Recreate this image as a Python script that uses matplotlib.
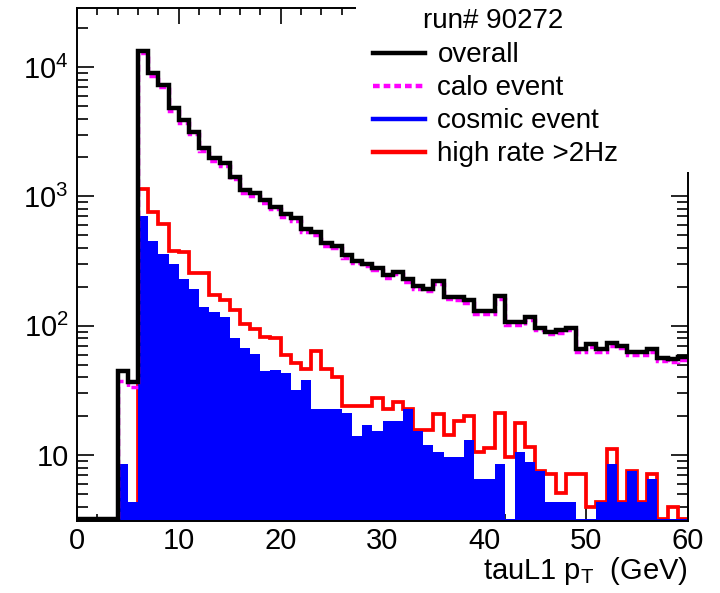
import numpy as np
import matplotlib
matplotlib.use("Agg")
import matplotlib.pyplot as plt
from matplotlib.ticker import MultipleLocator, LogLocator, FuncFormatter, NullFormatter
from matplotlib.lines import Line2D
from matplotlib.patches import Rectangle

plt.rcParams['font.family'] = ['Liberation Sans', 'DejaVu Sans']
plt.rcParams['mathtext.fontset'] = 'custom'
plt.rcParams['mathtext.rm'] = 'Liberation Sans'
plt.rcParams['mathtext.it'] = 'Liberation Sans'

# ---- data (1 GeV bins, 0..60 GeV) ----
bin_edges = list(range(0, 61))

overall = [0, 0, 0, 0, 45, 37, 13400, 8940, 7260, 4800,
           3890, 3160, 2350, 1970, 1800, 1420, 1120, 1055, 936, 831,
           730, 676, 556, 527, 433, 415, 352, 318, 303, 282,
           246, 261, 228, 202, 194, 222, 167, 166, 158, 130,
           130, 169, 107, 107, 116, 97, 90, 92, 97, 66,
           72, 66, 73, 70, 63, 63, 66, 56, 55, 57]

calo = [0, 0, 0, 0, 37.5, 33.4, 12820, 8560, 6950, 4590,
        3720, 3020, 2250, 1885, 1720, 1360, 1070, 1010, 896, 795,
        699, 647, 532, 504, 414, 397, 337, 304, 290, 270,
        235, 250, 218, 193, 186, 212, 160, 159, 151, 124,
        124, 162, 102, 102, 111, 93, 86, 88, 93, 63,
        69, 63, 70, 67, 60, 60, 63, 53.5, 52.5, 54.5]

cosmic = [0, 0, 0, 0, 8.6, 4.35, 705, 454, 362, 299,
          232, 194, 140, 128, 117, 80, 67, 61, 45, 45.5,
          43.5, 32, 38, 22.6, 22.6, 22.6, 21.3, 14, 17.1, 15.5,
          18.4, 18.4, 22.6, 15.5, 11.9, 10.6, 9.7, 9.7, 13.1, 6.5,
          6.5, 8.5, 0, 10.6, 8.9, 7.6, 4.35, 4.35, 4.35, 0,
          0, 4.35, 8.5, 4.35, 7.6, 4.35, 6.5, 0, 0, 0]

high_rate = [0, 0, 0, 0, 0, 0, 1150, 760, 611, 380,
             369, 254, 254, 173, 158, 132, 104, 95, 82, 80,
             59, 51.5, 46, 63.5, 46, 40, 23.9, 23.9, 23.9, 27.9,
             22.6, 25.8, 22.6, 15.6, 15.6, 21, 14.3, 18.4, 20, 10.5,
             11.4, 21.3, 9.7, 17.6, 11.6, 7.6, 7.2, 5.1, 7.1, 7.1,
             4.0, 4.35, 11.1, 4.35, 7.6, 4.35, 7.1, 0, 4.0, 0]

legend_title = "run# 90272"
series_labels = ["overall", "calo event", "cosmic event", "high rate >2Hz"]
x_ticks = [0, 10, 20, 30, 40, 50, 60]

YMIN, YMAX = 3.1, 2.86e4
W, H = 720, 593

fig = plt.figure(figsize=(W / 100, H / 100), dpi=100)
ax = fig.add_axes([77 / W, 1 - 521 / H, (688 - 77) / W, (521 - 8) / H])
ax.set_yscale('log')
ax.set_xlim(0, 60)
ax.set_ylim(YMIN, YMAX)

edges = np.array(bin_edges, dtype=float)
LINE_FLOOR = YMIN * 1.035   # empty bins drawn along the bottom edge
FILL_FLOOR = YMIN * 1.045

def floor(v, f):
    return np.maximum(np.array(v, dtype=float), f)

ax.stairs(floor(high_rate, LINE_FLOOR), edges, baseline=None, color='#ff0000',
          lw=2.7, zorder=2.6)
ax.stairs(floor(cosmic, FILL_FLOOR), edges, baseline=1.0, fill=True,
          color='#0000ff', lw=0, zorder=3)
ax.stairs(floor(calo, LINE_FLOOR), edges, baseline=None, color='#ff00ff', lw=2.5,
          linestyle=(0, (2, 1)), zorder=3.5)
ax.stairs(floor(overall, LINE_FLOOR), edges, baseline=None, color='black',
          lw=3.2, zorder=4)

# axes styling
ax.xaxis.set_major_locator(MultipleLocator(10))
ax.xaxis.set_minor_locator(MultipleLocator(2))
ax.set_xticks(x_ticks)
ax.yaxis.set_major_locator(LogLocator(base=10))
ax.yaxis.set_minor_locator(LogLocator(base=10, subs=np.arange(2, 10)))
ax.yaxis.set_minor_formatter(NullFormatter())

def yfmt(v, pos):
    n = int(round(np.log10(v)))
    if n == 1:
        return "10"
    return r"$\mathregular{10^{%d}}$" % n
ax.yaxis.set_major_formatter(FuncFormatter(yfmt))

ax.tick_params(which='both', direction='in', top=True, right=True, width=1.2,
               labelsize=21, colors='black')
ax.tick_params(axis='x', which='major', length=11.5, pad=4)
ax.tick_params(axis='x', which='minor', length=5)
ax.tick_params(axis='y', which='major', length=12.5, pad=6)
ax.tick_params(axis='y', which='minor', length=8)
for s in ax.spines.values():
    s.set_linewidth(1.4)
    s.set_zorder(5)

ax.set_xlabel(r"tauL1 $\mathregular{p_{T}}$  (GeV)", fontsize=21, loc='right',
              labelpad=0)

# white legend box covering the top-right corner of the frame
ax.add_patch(Rectangle((356 / W, 1 - 172 / H), 1 - 356 / W, 172 / H + 0.01,
                       transform=fig.transFigure, clip_on=False,
                       facecolor='white', edgecolor='none', zorder=10))

handles = [Line2D([], [], color='black', lw=3.2),
           Line2D([], [], color='#ff00ff', lw=3.2, linestyle=(0, (1.5, 0.9))),
           Line2D([], [], color='#0000ff', lw=3.2),
           Line2D([], [], color='#ff0000', lw=3.2)]
leg = ax.legend(handles, series_labels, loc='upper left',
                bbox_to_anchor=(373 / W, 1 - 42.5 / H), bbox_transform=fig.transFigure,
                frameon=False, fontsize=20, borderpad=0,
                borderaxespad=0, handlelength=1.87, handletextpad=0.45,
                labelspacing=0.25)
leg.set_zorder(11)
fig.text(493 / W, 1 - 20.5 / H, legend_title, ha='center', va='center',
         fontsize=20, zorder=12)

fig.savefig("out.png", dpi=100, facecolor='white')
